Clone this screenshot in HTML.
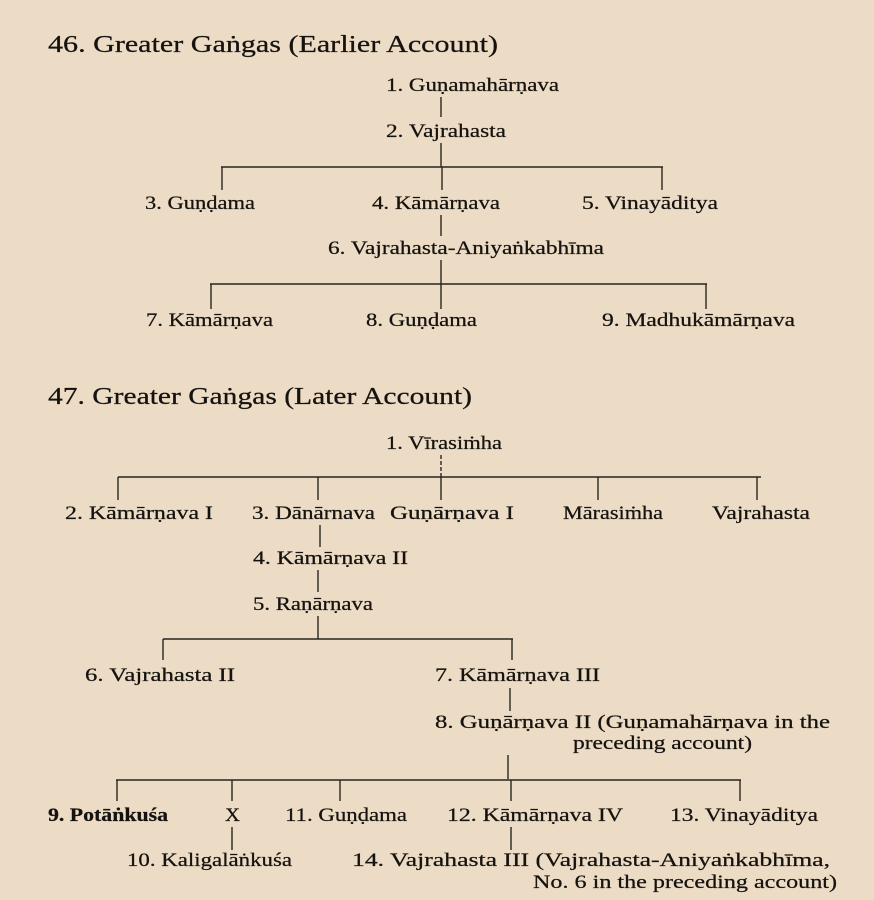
<!DOCTYPE html>
<html><head><meta charset="utf-8"><style>
html,body{margin:0;padding:0;background:#ecdcc5;}
svg{display:block}
text{font-family:"Liberation Serif",serif;fill:#15120f;font-size:19px;stroke:#15120f;stroke-width:0.25}
.t{font-size:24px}
line{stroke:#2a2520;stroke-width:1.4}
</style></head><body>
<svg width="874" height="900" viewBox="0 0 874 900" xmlns="http://www.w3.org/2000/svg">
<rect width="874" height="900" fill="#ecdcc5"/>
<text class="t" x="48" y="52" textLength="450" lengthAdjust="spacingAndGlyphs">46. Greater Gaṅgas (Earlier Account)</text>
<text x="386" y="91" textLength="173" lengthAdjust="spacingAndGlyphs">1. Guṇamahārṇava</text>
<line x1="441" y1="97" x2="441" y2="117"/>
<text x="386" y="137" textLength="120" lengthAdjust="spacingAndGlyphs">2. Vajrahasta</text>
<line x1="441" y1="143" x2="441" y2="167"/>
<line x1="221" y1="167" x2="663" y2="167"/>
<line x1="222" y1="167" x2="222" y2="190"/>
<line x1="442" y1="167" x2="442" y2="190"/>
<line x1="662" y1="167" x2="662" y2="190"/>
<text x="145" y="209" textLength="110" lengthAdjust="spacingAndGlyphs">3. Guṇḍama</text>
<text x="372" y="209" textLength="128" lengthAdjust="spacingAndGlyphs">4. Kāmārṇava</text>
<text x="582" y="209" textLength="136" lengthAdjust="spacingAndGlyphs">5. Vinayāditya</text>
<line x1="441" y1="215" x2="441" y2="236"/>
<text x="328" y="254" textLength="276" lengthAdjust="spacingAndGlyphs">6. Vajrahasta-Aniyaṅkabhīma</text>
<line x1="441" y1="260" x2="441" y2="284"/>
<line x1="210" y1="284" x2="707" y2="284"/>
<line x1="211" y1="284" x2="211" y2="309"/>
<line x1="441" y1="284" x2="441" y2="309"/>
<line x1="706" y1="284" x2="706" y2="309"/>
<text x="146" y="326" textLength="127" lengthAdjust="spacingAndGlyphs">7. Kāmārṇava</text>
<text x="366" y="326" textLength="111" lengthAdjust="spacingAndGlyphs">8. Guṇḍama</text>
<text x="602" y="326" textLength="193" lengthAdjust="spacingAndGlyphs">9. Madhukāmārṇava</text>

<text class="t" x="48" y="404" textLength="424" lengthAdjust="spacingAndGlyphs">47. Greater Gaṅgas (Later Account)</text>
<text x="386" y="449" textLength="116" lengthAdjust="spacingAndGlyphs">1. Vīrasiṁha</text>
<line x1="441" y1="455" x2="441" y2="477" stroke-dasharray="4,2"/>
<line x1="118" y1="477" x2="761" y2="477"/>
<line x1="118" y1="477" x2="118" y2="500"/>
<line x1="318" y1="477" x2="318" y2="500"/>
<line x1="441" y1="477" x2="441" y2="500"/>
<line x1="598" y1="477" x2="598" y2="500"/>
<line x1="757" y1="477" x2="757" y2="500"/>
<text x="65" y="519" textLength="148" lengthAdjust="spacingAndGlyphs">2. Kāmārṇava I</text>
<text x="252" y="519" textLength="123" lengthAdjust="spacingAndGlyphs">3. Dānārnava</text>
<text x="390" y="519" textLength="124" lengthAdjust="spacingAndGlyphs">Guṇārṇava I</text>
<text x="563" y="519" textLength="100" lengthAdjust="spacingAndGlyphs">Mārasiṁha</text>
<text x="712" y="519" textLength="98" lengthAdjust="spacingAndGlyphs">Vajrahasta</text>
<line x1="320" y1="525" x2="320" y2="547"/>
<text x="253" y="564" textLength="155" lengthAdjust="spacingAndGlyphs">4. Kāmārṇava II</text>
<line x1="318" y1="570" x2="318" y2="592"/>
<text x="253" y="610" textLength="120" lengthAdjust="spacingAndGlyphs">5. Raṇārṇava</text>
<line x1="318" y1="616" x2="318" y2="639"/>
<line x1="163" y1="639" x2="513" y2="639"/>
<line x1="163" y1="639" x2="163" y2="660"/>
<line x1="512" y1="639" x2="512" y2="660"/>
<text x="85" y="681" textLength="150" lengthAdjust="spacingAndGlyphs">6. Vajrahasta II</text>
<text x="435" y="681" textLength="165" lengthAdjust="spacingAndGlyphs">7. Kāmārṇava III</text>
<line x1="510" y1="688" x2="510" y2="711"/>
<text x="435" y="728" textLength="395" lengthAdjust="spacingAndGlyphs">8. Guṇārṇava II (Guṇamahārṇava in the</text>
<text x="573" y="749" textLength="179" lengthAdjust="spacingAndGlyphs">preceding account)</text>
<line x1="508" y1="755" x2="508" y2="779"/>
<line x1="116" y1="780" x2="741" y2="780"/>
<line x1="117" y1="780" x2="117" y2="801"/>
<line x1="232" y1="780" x2="232" y2="801"/>
<line x1="340" y1="780" x2="340" y2="801"/>
<line x1="511" y1="780" x2="511" y2="801"/>
<line x1="740" y1="780" x2="740" y2="801"/>
<text x="48" y="821" textLength="120" lengthAdjust="spacingAndGlyphs" font-weight="bold">9. Potāṅkuśa</text>
<text x="225" y="821" textLength="15" lengthAdjust="spacingAndGlyphs">X</text>
<text x="285" y="821" textLength="122" lengthAdjust="spacingAndGlyphs">11. Guṇḍama</text>
<text x="447" y="821" textLength="176" lengthAdjust="spacingAndGlyphs">12. Kāmārṇava IV</text>
<text x="670" y="821" textLength="148" lengthAdjust="spacingAndGlyphs">13. Vinayāditya</text>
<line x1="232" y1="827" x2="232" y2="850"/>
<line x1="511" y1="827" x2="511" y2="850"/>
<text x="127" y="866" textLength="165" lengthAdjust="spacingAndGlyphs">10. Kaligalāṅkuśa</text>
<text x="352" y="866" textLength="478" lengthAdjust="spacingAndGlyphs">14. Vajrahasta III (Vajrahasta-Aniyaṅkabhīma,</text>
<text x="533" y="888" textLength="304" lengthAdjust="spacingAndGlyphs">No. 6 in the preceding account)</text>
</svg>
</body></html>
